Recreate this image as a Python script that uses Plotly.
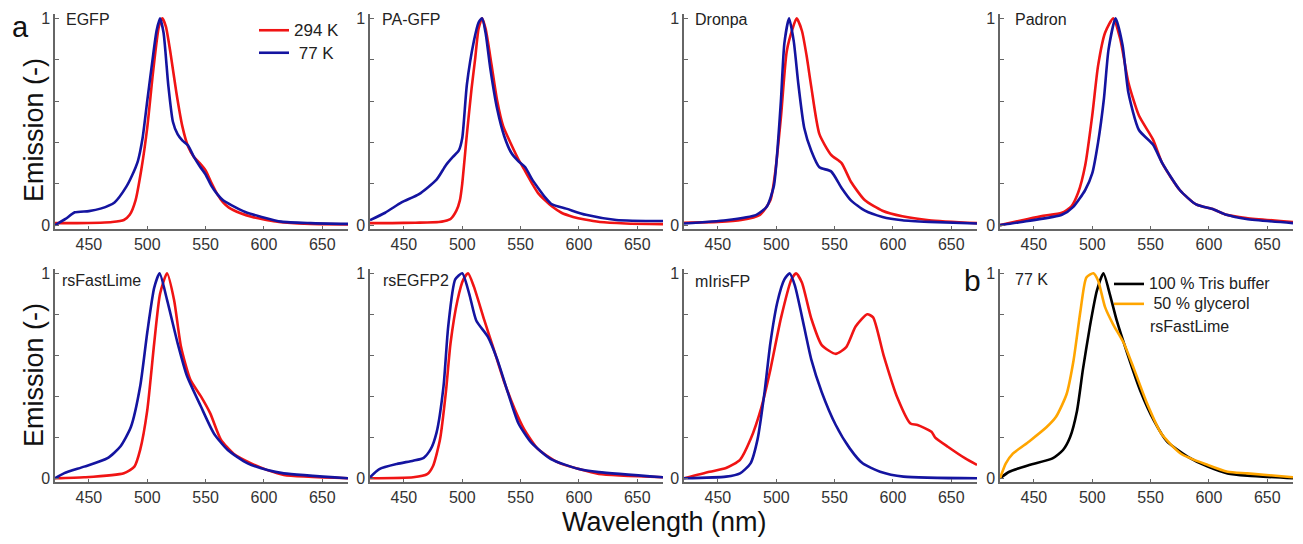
import plotly.graph_objects as go

# ---------------- data ----------------
egfp_rt_wl = [421,440,460,470,480,485,490,495,500,505,510,513,516,520,525,530,535,540,545,550,555,560,565,570,580,590,600,610,620,640,672]
egfp_rt_em = [0.01,0.01,0.012,0.015,0.025,0.05,0.12,0.27,0.47,0.74,0.96,1.0,0.96,0.83,0.64,0.48,0.38,0.33,0.30,0.265,0.205,0.15,0.11,0.085,0.058,0.04,0.028,0.018,0.012,0.006,0.004]
egfp_lt_wl = [421,430,438,450,460,472,482,487,492,496,500,505,508,511,514,518,522,526,530,535,540,545,550,555,560,565,572,584,598,615,640,672]
egfp_lt_em = [0.0,0.03,0.062,0.068,0.08,0.11,0.185,0.24,0.31,0.42,0.6,0.82,0.94,1.0,0.93,0.68,0.5,0.44,0.41,0.385,0.33,0.285,0.245,0.19,0.15,0.12,0.097,0.064,0.04,0.017,0.01,0.006]

pagfp_rt_wl = [421,440,460,480,485,490,495,498,500,504,508,511,514,517,520,525,530,535,542,548,554,560,565,571,577,585,595,605,618,640,672]
pagfp_rt_em = [0.01,0.01,0.012,0.015,0.02,0.03,0.07,0.12,0.2,0.44,0.66,0.8,0.95,1.0,0.95,0.78,0.6,0.48,0.39,0.32,0.26,0.2,0.155,0.12,0.09,0.06,0.04,0.027,0.015,0.008,0.005]
pagfp_lt_wl = [421,434,448,463,478,486,492,497,500,504,510,514,517,520,524,530,536,542,548,554,560,565,571,577,589,606,632,672]
pagfp_lt_em = [0.024,0.06,0.11,0.15,0.22,0.29,0.33,0.36,0.42,0.68,0.89,0.98,1.0,0.93,0.76,0.56,0.43,0.35,0.31,0.28,0.22,0.18,0.135,0.10,0.08,0.05,0.025,0.02]

dronpa_rt_wl = [421,450,470,486,495,499,504,509,514,517.5,522,526,530,537,547,556,564,576,591,608,631,672]
dronpa_rt_em = [0.012,0.016,0.025,0.05,0.12,0.25,0.52,0.84,0.95,1.0,0.94,0.82,0.67,0.44,0.34,0.3,0.21,0.12,0.07,0.043,0.024,0.01]
dronpa_lt_wl = [421,457,483,492,498,501,504,507,511,515,519,524,530,537,547,556,564,576,591,608,631,672]
dronpa_lt_em = [0.008,0.024,0.05,0.09,0.19,0.36,0.6,0.88,1.0,0.89,0.68,0.47,0.36,0.28,0.26,0.18,0.12,0.07,0.04,0.024,0.016,0.008]

padron_rt_wl = [421,445,458,474,482,488,494,500,505,511,518,524,531,540,552,560,575,589,604,615,632,672]
padron_rt_em = [0.0,0.03,0.045,0.06,0.09,0.158,0.29,0.53,0.77,0.93,1.0,0.9,0.69,0.53,0.415,0.3,0.17,0.10,0.076,0.05,0.035,0.015]
padron_lt_wl = [421,445,474,484,494,500,505,510,514,520,526,531,540,552,560,575,589,604,615,632,672]
padron_lt_em = [0.0,0.02,0.05,0.09,0.17,0.25,0.40,0.61,0.85,1.0,0.87,0.64,0.46,0.39,0.3,0.17,0.10,0.076,0.05,0.03,0.01]

rsfl_rt_wl = [421,446,480,489,494,500,506,511,517,523,529,537,546,554,563,574,589,603,617,672]
rsfl_rt_em = [0.0,0.005,0.025,0.057,0.14,0.33,0.66,0.9,1.0,0.87,0.64,0.48,0.40,0.317,0.19,0.12,0.073,0.04,0.016,0.0]
rsfl_lt_wl = [421,429,446,466,477,486,494,500,506,510.6,517,526,534,546,557,569,586,603,617,672]
rsfl_lt_em = [0.0,0.025,0.057,0.098,0.155,0.25,0.45,0.71,0.93,1.0,0.87,0.66,0.5,0.35,0.22,0.138,0.073,0.04,0.024,0.0]

rsegfp2_rt_wl = [421,458,470,475,481,486,490,496,501,505,510,519,527,536,545,553,565,582,600,617,672]
rsegfp2_rt_em = [0.0,0.005,0.02,0.06,0.19,0.42,0.66,0.87,0.97,1.0,0.935,0.77,0.63,0.47,0.337,0.24,0.142,0.078,0.045,0.021,0.005]
rsegfp2_lt_wl = [421,429,444,458,467,473,478,484,488,494,500,506,512,522,530,539,548,559,576,600,617,672]
rsegfp2_lt_em = [0.005,0.045,0.07,0.086,0.1,0.142,0.223,0.45,0.74,0.97,1.0,0.9,0.77,0.69,0.58,0.42,0.27,0.175,0.094,0.045,0.03,0.005]

miris_rt_wl = [421,443,457,469,478,487,495,504,513,517,522,530,539,551,560,568,578,583,592,604,615,621,633,636,647,662,672]
miris_rt_em = [0.0,0.032,0.05,0.09,0.19,0.34,0.53,0.78,0.97,1.0,0.955,0.78,0.65,0.607,0.64,0.74,0.80,0.785,0.6,0.39,0.267,0.26,0.227,0.2,0.154,0.097,0.065]
miris_lt_wl = [421,457,469,478,484,490,495,501,507,511.5,516,522,530,539,551,563,574,589,609,672]
miris_lt_em = [0.0,0.008,0.024,0.073,0.19,0.42,0.66,0.86,0.97,1.0,0.94,0.79,0.58,0.42,0.26,0.146,0.073,0.032,0.008,0.0]

tris_wl = [421,429,446,466,475,481,487,492,498,504,509.6,515,521,530,541,553,564,582,599,616,633,672]
tris_em = [0.0,0.032,0.065,0.097,0.138,0.2,0.33,0.53,0.74,0.915,1.0,0.9,0.77,0.61,0.43,0.28,0.18,0.105,0.057,0.024,0.013,0.0]
glyc_wl = [421,426,432,446,461,469,478,484,490,495,501,505,511,518,527,536,547,559,576,599,616,633,672]
glyc_em = [0.0,0.073,0.12,0.18,0.25,0.30,0.41,0.575,0.82,0.98,1.0,0.965,0.835,0.75,0.66,0.53,0.365,0.22,0.12,0.065,0.032,0.024,0.005]

panel_names = ["EGFP", "PA-GFP", "Dronpa", "Padron", "rsFastLime", "rsEGFP2", "mIrisFP", "77 K"]
series_names = ["294 K", "\u00a077 K"]
b_names = ["100 % Tris buffer", "\u00a050 % glycerol"]
x_ticks = [450, 500, 550, 600, 650]
y_ticks = [0, 0.2, 0.4, 0.6, 0.8, 1.0]
y_ticktext = ["0", "", "", "", "", "1"]

RED = "#f01414"
BLUE = "#1414a0"
BLACK = "#000000"
ORANGE = "#ffa500"

# page is 1303x544; the default html body has an 8px margin
OFF = 8
W, H = 1303 - OFF, 544 - OFF
FONT = "Arial, 'Liberation Sans', sans-serif"

def px_x(p):
    return (p - OFF) / W

def px_y(p):
    return 1 - (p - OFF) / H

# ---------------- layout geometry (page pixels) ----------------
col_px = [(55, 348), (370, 663), (684, 977), (1000, 1293)]
row_px = [(14.2, 229.3), (269.2, 482.4)]

fig = go.Figure()

pairs = [
    (egfp_rt_wl, egfp_rt_em, egfp_lt_wl, egfp_lt_em),
    (pagfp_rt_wl, pagfp_rt_em, pagfp_lt_wl, pagfp_lt_em),
    (dronpa_rt_wl, dronpa_rt_em, dronpa_lt_wl, dronpa_lt_em),
    (padron_rt_wl, padron_rt_em, padron_lt_wl, padron_lt_em),
    (rsfl_rt_wl, rsfl_rt_em, rsfl_lt_wl, rsfl_lt_em),
    (rsegfp2_rt_wl, rsegfp2_rt_em, rsegfp2_lt_wl, rsegfp2_lt_em),
    (miris_rt_wl, miris_rt_em, miris_lt_wl, miris_lt_em),
]

def ax_ids(i):
    return ("x" if i == 1 else f"x{i}"), ("y" if i == 1 else f"y{i}")

def legend_label(txt, size):
    return f'<span style="font-size:{size}px">{txt}</span>'

line_kw = dict(shape="spline", smoothing=0.6, width=2.6)

for k, (rwl, rem, lwl, lem) in enumerate(pairs):
    i = k + 1
    xa, ya = ax_ids(i)
    fig.add_trace(go.Scatter(x=rwl, y=rem, mode="lines", xaxis=xa, yaxis=ya,
                             line=dict(color=RED, **line_kw),
                             name=legend_label(series_names[0], 17),
                             showlegend=(i == 1), legend="legend"))
    fig.add_trace(go.Scatter(x=lwl, y=lem, mode="lines", xaxis=xa, yaxis=ya,
                             line=dict(color=BLUE, **line_kw),
                             name=legend_label(series_names[1], 17),
                             showlegend=(i == 1), legend="legend"))

xa, ya = ax_ids(8)
fig.add_trace(go.Scatter(x=tris_wl, y=tris_em, mode="lines", xaxis=xa, yaxis=ya,
                         line=dict(color=BLACK, **line_kw),
                         name=legend_label(b_names[0], 16), legend="legend2"))
fig.add_trace(go.Scatter(x=glyc_wl, y=glyc_em, mode="lines", xaxis=xa, yaxis=ya,
                         line=dict(color=ORANGE, **line_kw),
                         name=legend_label(b_names[1], 16), legend="legend2"))

layout = {}
for i in range(1, 9):
    r = 0 if i <= 4 else 1
    c = (i - 1) % 4
    x0, x1 = col_px[c]
    y0, y1 = row_px[r]
    xkey = "xaxis" if i == 1 else f"xaxis{i}"
    ykey = "yaxis" if i == 1 else f"yaxis{i}"
    xa, ya = ax_ids(i)
    layout[xkey] = dict(domain=[px_x(x0), px_x(x1)], range=[421, 672], anchor=ya,
                        automargin=False,
                        tickvals=x_ticks, ticks="inside", ticklen=4, tickwidth=1,
                        tickcolor="#666", showline=True, linecolor="#666", linewidth=1.5,
                        showgrid=False, zeroline=False,
                        tickfont=dict(size=16, color="#333", family=FONT))
    layout[ykey] = dict(domain=[px_y(y1), px_y(y0)], range=[-0.02, 1.02], anchor=xa,
                        automargin=False,
                        tickvals=y_ticks, ticktext=y_ticktext, ticks="inside", ticklen=4,
                        tickwidth=1, tickcolor="#666", showline=True, linecolor="#666",
                        linewidth=1.5, showgrid=False, zeroline=False,
                        tickfont=dict(size=16, color="#333", family=FONT))

fig.update_layout(**layout)

annotations = []
name_pos = [(64, 20), (380, 20), (693, 20), (1013, 20), (60, 280), (381, 280), (693, 281), (1013, 279)]
for name, (px, py) in zip(panel_names, name_pos):
    annotations.append(dict(text=name, xref="paper", yref="paper", x=px_x(px), y=px_y(py),
                            xanchor="left", yanchor="middle", showarrow=False,
                            font=dict(size=16, color="#222", family=FONT)))
annotations.append(dict(text="rsFastLime", xref="paper", yref="paper", x=px_x(1148), y=px_y(326),
                        xanchor="left", yanchor="middle", showarrow=False,
                        font=dict(size=16, color="#222", family=FONT)))
annotations.append(dict(text="a", xref="paper", yref="paper", x=px_x(20), y=px_y(9),
                        xanchor="center", yanchor="top", showarrow=False,
                        font=dict(size=29, color="#111", family=FONT)))
annotations.append(dict(text="b", xref="paper", yref="paper", x=px_x(972), y=px_y(280),
                        xanchor="center", yanchor="middle", showarrow=False,
                        font=dict(size=30, color="#111", family=FONT)))
for cy in (130, 375):
    annotations.append(dict(text="Emission (-)", xref="paper", yref="paper", x=px_x(34), y=px_y(cy),
                            xanchor="center", yanchor="middle", textangle=-90, showarrow=False,
                            font=dict(size=27, color="#111", family=FONT)))
annotations.append(dict(text="Wavelength (nm)", xref="paper", yref="paper", x=px_x(664), y=px_y(522),
                        xanchor="center", yanchor="middle", showarrow=False,
                        font=dict(size=27, color="#111", family=FONT)))

fig.update_layout(
    template="none",
    width=W, height=H,
    margin=dict(l=0, r=0, t=0, b=0, autoexpand=False),
    paper_bgcolor="white", plot_bgcolor="white",
    annotations=annotations,
    legend=dict(x=px_x(254), y=px_y(14), xanchor="left", yanchor="top",
                bgcolor="rgba(0,0,0,0)", font=dict(size=15, color="#222", family=FONT),
                itemwidth=30, tracegroupgap=0, borderwidth=0),
    legend2=dict(x=px_x(1109), y=px_y(269), xanchor="left", yanchor="top",
                 bgcolor="rgba(0,0,0,0)", font=dict(size=13, color="#222", family=FONT),
                 itemwidth=30, tracegroupgap=0, borderwidth=0),
)

fig.write_html("out.html")
